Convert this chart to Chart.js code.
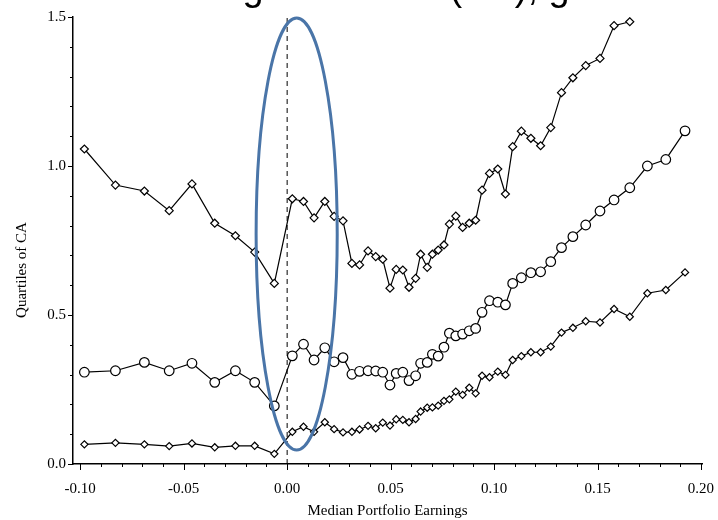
<!DOCTYPE html>
<html><head><meta charset="utf-8">
<script src="https://cdn.jsdelivr.net/npm/chart.js@4.4.1/dist/chart.umd.min.js"></script>
<style>html,body{margin:0;padding:0;background:#fff}#wrap{width:718px;height:520px;position:relative}</style>
</head><body><div id="wrap"><canvas id="c" width="718" height="520"></canvas></div>
<script>
// Median portfolio earnings (x) shared by all three quartile series
const earnings = [-0.098, -0.083, -0.069, -0.057, -0.046, -0.035, -0.025, -0.0157, -0.0062, 0.0025,
  0.0079, 0.013, 0.0182, 0.0227, 0.027, 0.0313, 0.035, 0.0391, 0.0428, 0.0462,
  0.0497, 0.0527, 0.0559, 0.0589, 0.0621, 0.0645, 0.0677, 0.0702, 0.073, 0.0758,
  0.0784, 0.0815, 0.0848, 0.088, 0.0911, 0.0942, 0.0978, 0.1018, 0.1055, 0.109,
  0.1132, 0.1178, 0.1225, 0.1274, 0.1326, 0.1381, 0.1443, 0.1512, 0.158, 0.1656,
  0.1741, 0.183, 0.1923];
const upperQuartile = [1.057, 0.936, 0.916, 0.850, 0.940, 0.808, 0.766, 0.711, 0.606, 0.890,
  0.881, 0.826, 0.881, 0.831, 0.816, 0.673, 0.668, 0.715, 0.696, 0.687,
  0.590, 0.653, 0.651, 0.593, 0.623, 0.704, 0.660, 0.704, 0.718, 0.735,
  0.805, 0.832, 0.794, 0.808, 0.818, 0.919, 0.975, 0.990, 0.906, 1.065,
  1.117, 1.093, 1.068, 1.129, 1.246, 1.296, 1.337, 1.361, 1.471, 1.484];
const medianCA = [0.308, 0.313, 0.341, 0.313, 0.338, 0.274, 0.313, 0.274, 0.195, 0.363,
  0.402, 0.349, 0.390, 0.343, 0.357, 0.301, 0.311, 0.313, 0.312, 0.308,
  0.265, 0.304, 0.308, 0.280, 0.296, 0.338, 0.341, 0.368, 0.362, 0.392,
  0.439, 0.430, 0.436, 0.447, 0.455, 0.509, 0.548, 0.543, 0.534, 0.606,
  0.625, 0.642, 0.645, 0.679, 0.726, 0.763, 0.802, 0.849, 0.886, 0.927,
  1.000, 1.022, 1.118];
const lowerQuartile = [0.066, 0.071, 0.066, 0.060, 0.069, 0.056, 0.061, 0.061, 0.034, 0.108,
  0.125, 0.108, 0.140, 0.117, 0.106, 0.108, 0.116, 0.128, 0.120, 0.139,
  0.129, 0.150, 0.148, 0.140, 0.151, 0.176, 0.189, 0.190, 0.196, 0.212,
  0.217, 0.243, 0.232, 0.256, 0.237, 0.296, 0.291, 0.310, 0.299, 0.349,
  0.362, 0.375, 0.375, 0.394, 0.441, 0.457, 0.479, 0.475, 0.520, 0.494,
  0.573, 0.584, 0.643];

const xMajorTicks = [-0.10, -0.05, 0.00, 0.05, 0.10, 0.15, 0.20];
const yMajorTicks = [0.0, 0.5, 1.0, 1.5];
const xAxisTitle = 'Median Portfolio Earnings';
const yAxisTitle = 'Quartiles of CA';
const headerText = 'Earnings Accruals (CA), growth';
// highlighted region (data units): centre and radii
const highlight = {x: 0.0046, y: 0.772, rx: 0.0196, ry: 0.725};
const zeroEarnings = 0;

const isMajor = (v, list) => list.some(m => Math.abs(m - v) < 1e-6);
const toPoints = ys => ys.map((y, i) => ({x: earnings[i], y}));

const serif = '"Liberation Serif", "Times New Roman", serif';

const decor = {
  id: 'decor',
  beforeDatasetsDraw(chart) {
    const {ctx, scales: {x, y}} = chart;
    const px = x.getPixelForValue(zeroEarnings);
    ctx.save();
    ctx.strokeStyle = '#000';
    ctx.lineWidth = 1;
    ctx.setLineDash([5, 4]);
    ctx.beginPath();
    ctx.moveTo(px, y.getPixelForValue(y.min));
    ctx.lineTo(px, y.getPixelForValue(y.max));
    ctx.stroke();
    ctx.restore();
  },
  afterDatasetsDraw(chart) {
    const {ctx, scales: {x, y}} = chart;
    const cx = x.getPixelForValue(highlight.x);
    const cy = y.getPixelForValue(highlight.y);
    const rx = Math.abs(x.getPixelForValue(highlight.x + highlight.rx) - cx);
    const ry = Math.abs(y.getPixelForValue(highlight.y + highlight.ry) - cy);
    ctx.save();
    ctx.strokeStyle = '#4a75a8';
    ctx.lineWidth = 3;
    ctx.beginPath();
    ctx.ellipse(cx, cy, rx, ry, 0, 0, Math.PI * 2);
    ctx.stroke();
    ctx.restore();
  },
  afterDraw(chart) {
    const {ctx, chartArea, scales: {x, y}} = chart;
    ctx.save();
    ctx.strokeStyle = '#000';
    ctx.lineWidth = 1;
    x.ticks.forEach(t => {
      const px = Math.round(x.getPixelForValue(t.value)) + 0.5;
      const len = isMajor(t.value, xMajorTicks) ? 6 : 3;
      ctx.beginPath();
      ctx.moveTo(px, chartArea.bottom);
      ctx.lineTo(px, chartArea.bottom + len);
      ctx.stroke();
    });
    y.ticks.forEach(t => {
      const py = Math.round(y.getPixelForValue(t.value)) + 0.5;
      const len = isMajor(t.value, yMajorTicks) ? 5 : 3;
      ctx.beginPath();
      ctx.moveTo(chartArea.left - len, py);
      ctx.lineTo(chartArea.left, py);
      ctx.stroke();
    });
    // y axis title
    ctx.fillStyle = '#000';
    ctx.font = '15px ' + serif;
    ctx.translate(22, 270);
    ctx.rotate(-Math.PI / 2);
    ctx.textAlign = 'center';
    ctx.textBaseline = 'middle';
    ctx.fillText(yAxisTitle, 0, 0);
    ctx.restore();
    // header (cut off by the top of the picture: only descenders show)
    ctx.save();
    ctx.fillStyle = '#000';
    ctx.font = '38px "Liberation Sans", Arial, sans-serif';
    ctx.textAlign = 'left';
    ctx.textBaseline = 'alphabetic';
    const gi = headerText.indexOf('g');
    const pre = ctx.measureText(headerText.slice(0, gi)).width + ctx.measureText('g').width / 2;
    ctx.fillText(headerText, 253 - pre, 0);
    ctx.restore();
  }
};

const markerBase = {
  borderColor: '#000', borderWidth: 1.2, showLine: true, tension: 0,
  pointBackgroundColor: '#fff', pointBorderColor: '#000', pointBorderWidth: 1.2,
  pointHoverRadius: 0
};

new Chart(document.getElementById('c'), {
  type: 'scatter',
  data: {
    datasets: [
      Object.assign({label: 'Upper quartile', data: toPoints(upperQuartile), pointStyle: 'rectRot', pointRadius: 4}, markerBase),
      Object.assign({label: 'Median', data: toPoints(medianCA), pointStyle: 'circle', pointRadius: 4.8}, markerBase),
      Object.assign({label: 'Lower quartile', data: toPoints(lowerQuartile), pointStyle: 'rectRot', pointRadius: 3.6}, markerBase)
    ]
  },
  options: {
    responsive: false,
    animation: false,
    devicePixelRatio: 1,
    layout: {padding: {top: 17, right: 16, left: 0, bottom: 0}},
    plugins: {legend: {display: false}, tooltip: {enabled: false}},
    scales: {
      x: {
        type: 'linear', min: -0.1035, max: 0.2005,
        grid: {display: false, drawTicks: false},
        border: {display: true, color: '#000', width: 1.5},
        ticks: {
          stepSize: 0.01, includeBounds: false, autoSkip: false, maxRotation: 0,
          padding: 16, color: '#000', font: {family: serif, size: 15},
          callback: v => isMajor(v, xMajorTicks) ? Number(v).toFixed(2) : ''
        },
        title: {display: true, text: xAxisTitle, color: '#000', font: {family: serif, size: 15}, padding: {top: 0, bottom: 0}},
        afterFit: s => { s.height = 56; s.paddingLeft = 0; s.paddingRight = 0; }
      },
      y: {
        type: 'linear', min: 0, max: 1.5,
        grid: {display: false, drawTicks: false},
        border: {display: true, color: '#000', width: 1.5},
        ticks: {
          stepSize: 0.1, includeBounds: false, autoSkip: false,
          padding: 7, color: '#000', font: {family: serif, size: 15},
          callback: v => isMajor(v, yMajorTicks) ? Number(v).toFixed(1) : ''
        },
        afterFit: s => { s.width = 73; s.paddingTop = 0; s.paddingBottom = 0; }
      }
    }
  },
  plugins: [decor]
});
</script></body></html>
